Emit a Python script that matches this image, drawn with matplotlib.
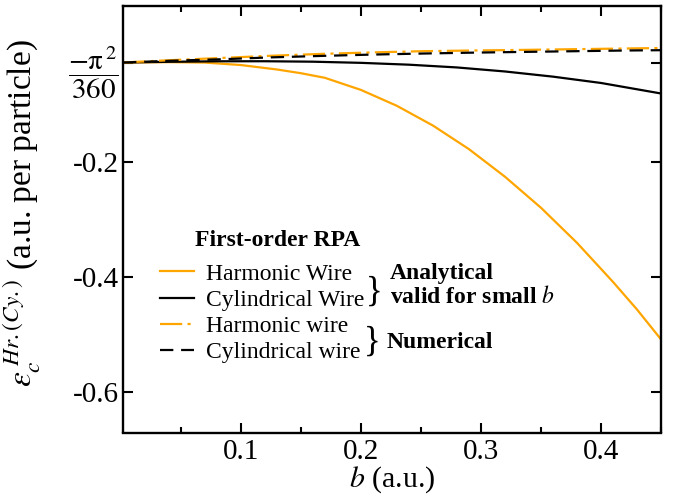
import numpy as np
import matplotlib
matplotlib.use("Agg")
import matplotlib.pyplot as plt

plt.rcParams['font.family'] = ['Liberation Serif', 'DejaVu Serif']
plt.rcParams['mathtext.fontset'] = 'stix'

# ---- data ----
b_harm_an = [0.002, 0.04, 0.07, 0.10, 0.13, 0.15, 0.17, 0.20, 0.23, 0.26, 0.29, 0.32, 0.35, 0.38, 0.41, 0.43, 0.45]
e_harm_an = [-0.0274, -0.0268, -0.0275, -0.0318, -0.0395, -0.046, -0.054, -0.075, -0.1027, -0.137, -0.178,
             -0.226, -0.280, -0.341, -0.409, -0.457, -0.509]

b_cyl_an = [0.002, 0.04, 0.08, 0.12, 0.16, 0.20, 0.24, 0.28, 0.32, 0.36, 0.40, 0.45]
e_cyl_an = [-0.0274, -0.0262, -0.0253, -0.0252, -0.0260, -0.0280, -0.0312, -0.0360, -0.0430, -0.0520, -0.0630, -0.0813]

b_num = [0.002, 0.04, 0.085, 0.125, 0.168, 0.21, 0.252, 0.295, 0.335, 0.38, 0.422, 0.45]
e_harm_num = [-0.0274, -0.0235, -0.0194, -0.0157, -0.0124, -0.0098, -0.0077, -0.0065, -0.0055, -0.0042, -0.0030, -0.0022]
e_cyl_num = [-0.0274, -0.0245, -0.0217, -0.0185, -0.0159, -0.0136, -0.0118, -0.0102, -0.0090, -0.0077, -0.0065, -0.0060]

x_major = [0.1, 0.2, 0.3, 0.4]
x_minor = [0.05, 0.15, 0.25, 0.35, 0.45]
x_ticklabels = ['0.1', '0.2', '0.3', '0.4']
y_ticks = [-0.6, -0.4, -0.2, -np.pi**2 / 360]
y_ticklabels = ['-0.6', '-0.4', '-0.2', r'$\dfrac{-\mathrm{\pi}^{\,2}}{360}$']

ORANGE = '#FFA500'

fig = plt.figure(figsize=(6.79, 4.98), dpi=100)
W, H = 679.0, 498.0
L, R, T, B = 123.3, 661.0, 5.7, 432.5
ax = fig.add_axes([L / W, 1 - B / H, (R - L) / W, (B - T) / H])

l1, = ax.plot(b_harm_an, e_harm_an, color=ORANGE, lw=1.6, label='Harmonic Wire')
l2, = ax.plot(b_cyl_an, e_cyl_an, color='black', lw=1.6, label='Cylindrical Wire')
l3, = ax.plot(b_num, e_harm_num, color=ORANGE, lw=1.6, dashes=(10, 2.4, 1.4, 2.4), label='Harmonic wire')
l4, = ax.plot(b_num, e_cyl_num, color='black', lw=1.6, dashes=(6, 3.5), label='Cylindrical wire')

ax.set_xlim(0.0022, 0.45)
ax.set_ylim(-0.671, 0.0714)
ax.set_xticks(x_major)
ax.set_xticks(x_minor, minor=True)
ax.set_xticklabels(x_ticklabels)
ax.set_yticks(y_ticks)
ax.set_yticklabels(y_ticklabels)

ax.tick_params(which='both', direction='in', top=True, right=True, width=1.5, labelsize=21)
ax.tick_params(axis='x', which='major', length=7.5, pad=5)
ax.tick_params(axis='y', which='major', length=7.5, pad=3)
ax.tick_params(which='minor', length=4)
for s in ax.spines.values():
    s.set_linewidth(1.7)

ax.set_xlabel(r'$b$ (a.u.)', fontsize=21.5)
ax.xaxis.set_label_coords(0.5, -0.074)
ax.set_ylabel(r'$\varepsilon_c^{\;Hr.(Cy.)}$ (a.u. per particle)', fontsize=24)
ax.yaxis.set_label_coords(-0.15, 0.515)

def fx(px):
    return (px - L) / (R - L)

def fy(py):
    return 1 - (py - T) / (B - T)

ax.text(fx(195), fy(241), 'First-order RPA', transform=ax.transAxes, fontsize=17,
        fontweight='bold', va='center', ha='left')

leg = ax.legend(handles=[l1, l2, l3, l4], loc='upper left', bbox_to_anchor=(fx(160), fy(263)),
                frameon=False, fontsize=17, borderpad=0, borderaxespad=0,
                handlelength=1.45, handletextpad=0.5, labelspacing=0.2)

ax.text(fx(374), fy(292), '}', transform=ax.transAxes, fontsize=25, va='center', ha='center')
ax.text(fx(372), fy(342), '}', transform=ax.transAxes, fontsize=25, va='center', ha='center')
ax.text(fx(390), fy(273), 'Analytical', transform=ax.transAxes, fontsize=17,
        fontweight='bold', va='center', ha='left')
ax.text(fx(390), fy(297), r'valid for small $b$', transform=ax.transAxes, fontsize=17,
        fontweight='bold', va='center', ha='left')
ax.text(fx(387), fy(342), 'Numerical', transform=ax.transAxes, fontsize=17,
        fontweight='bold', va='center', ha='left')

fig.savefig('out.png', dpi=100)
